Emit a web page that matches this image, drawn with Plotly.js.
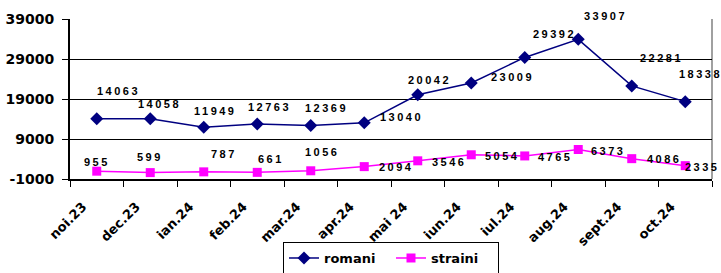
<!DOCTYPE html>
<html><head><meta charset="utf-8">
<script src="https://cdn.plot.ly/plotly-3.0.1.min.js"></script>
<style>
html,body{margin:0;padding:0;background:#fff;}
#chart{width:721px;height:273px;}
.annotation-text{letter-spacing:2.5px;}
</style></head><body><div id="chart"></div>
<script>
const months = ["noi.23","dec.23","ian.24","feb.24","mar.24","apr.24","mai 24","iun.24","iul.24","aug.24","sept.24","oct.24"];
const romani = [14063,14058,11949,12763,12369,13040,20042,23009,29392,33907,22281,18338];
const straini = [955,599,787,661,1056,2094,3546,5054,4765,6373,4086,2335];
const yTicks = [-1000,9000,19000,29000,39000];

// label offsets in pixels [dx, dy(down)]
const romaniOff = [[22,-28],[9,-15],[11,-16],[12,-17],[16,-18],[37,-6],[12,-15],[41,-6],[30,-23],[27,-23],[30,-28],[15,-28]];
const strainiOff = [[0,-9],[0,-16],[20,-18],[14,-13],[11,-19],[32,0],[31,1],[31,1],[30,1],[30,1],[32,0],[17,1]];

const labelFont = {family:"Liberation Sans, Arial, sans-serif", size:11, weight:"bold", color:"#000"};
const annotations = [];
months.forEach((m,i)=>{
  annotations.push({x:m, y:romani[i], text:String(romani[i]), showarrow:false,
    xshift:romaniOff[i][0], yshift:-romaniOff[i][1], font:labelFont});
  annotations.push({x:m, y:straini[i], text:String(straini[i]), showarrow:false,
    xshift:strainiOff[i][0], yshift:-strainiOff[i][1], font:labelFont});
});

const traces = [
  {x:months, y:romani, name:"romani", type:"scatter", mode:"lines+markers",
   line:{color:"#000080", width:1.5}, marker:{symbol:"diamond", size:10, color:"#000080"}},
  {x:months, y:straini, name:"straini", type:"scatter", mode:"lines+markers",
   line:{color:"#FF00FF", width:1.5}, marker:{symbol:"square", size:9, color:"#FF00FF"}}
];

const layout = {
  width:721, height:273,
  margin:{l:70, r:9, t:19, b:94, autoexpand:false},
  paper_bgcolor:"#fff", plot_bgcolor:"#fff",
  showlegend:true,
  legend:{orientation:"h", x:0.5, xanchor:"center", y:-0.394, yanchor:"top",
    entrywidth:62, entrywidthmode:"pixels",
    bordercolor:"#000", borderwidth:1, font:{family:"DejaVu Sans, sans-serif", size:13, weight:"bold", color:"#000"},
    itemclick:false},
  xaxis:{type:"category", range:[-0.5,11.5], showgrid:false, zeroline:false,
    showline:true, linecolor:"#000", linewidth:2,
    ticks:"outside", tickson:"boundaries", ticklen:6, tickcolor:"#000", tickwidth:1,
    tickangle:-45, ticklabelshift:-14, ticklabelstandoff:13,
    tickfont:{family:"DejaVu Sans, sans-serif", size:13, weight:"bold", color:"#000"}},
  yaxis:{range:[-1000,39000], tickvals:yTicks, ticktext:yTicks.map(String),
    showgrid:true, gridcolor:"#000", gridwidth:1, zeroline:false,
    showline:true, linecolor:"#000", linewidth:2,
    ticks:"outside", ticklen:6, tickcolor:"#000", tickwidth:1, ticklabelstandoff:5,
    tickfont:{family:"DejaVu Sans, sans-serif", size:14, weight:"bold", color:"#000"}},
  shapes:[
    {type:"line", xref:"paper", yref:"y", x0:0, x1:1, y0:39750, y1:39750, line:{color:"#a0a0a0", width:2}, layer:"below"},
    {type:"line", xref:"paper", yref:"y", x0:1, x1:1, y0:-1000, y1:39750, line:{color:"#a0a0a0", width:2}, layer:"below"},
    {type:"line", xref:"paper", yref:"y", x0:0, x1:1, y0:-1400, y1:-1400, line:{color:"#a0a0a0", width:2}, layer:"below"}
  ],
  annotations:annotations
};
Plotly.newPlot("chart", traces, layout, {staticPlot:true, displayModeBar:false});
</script></body></html>
